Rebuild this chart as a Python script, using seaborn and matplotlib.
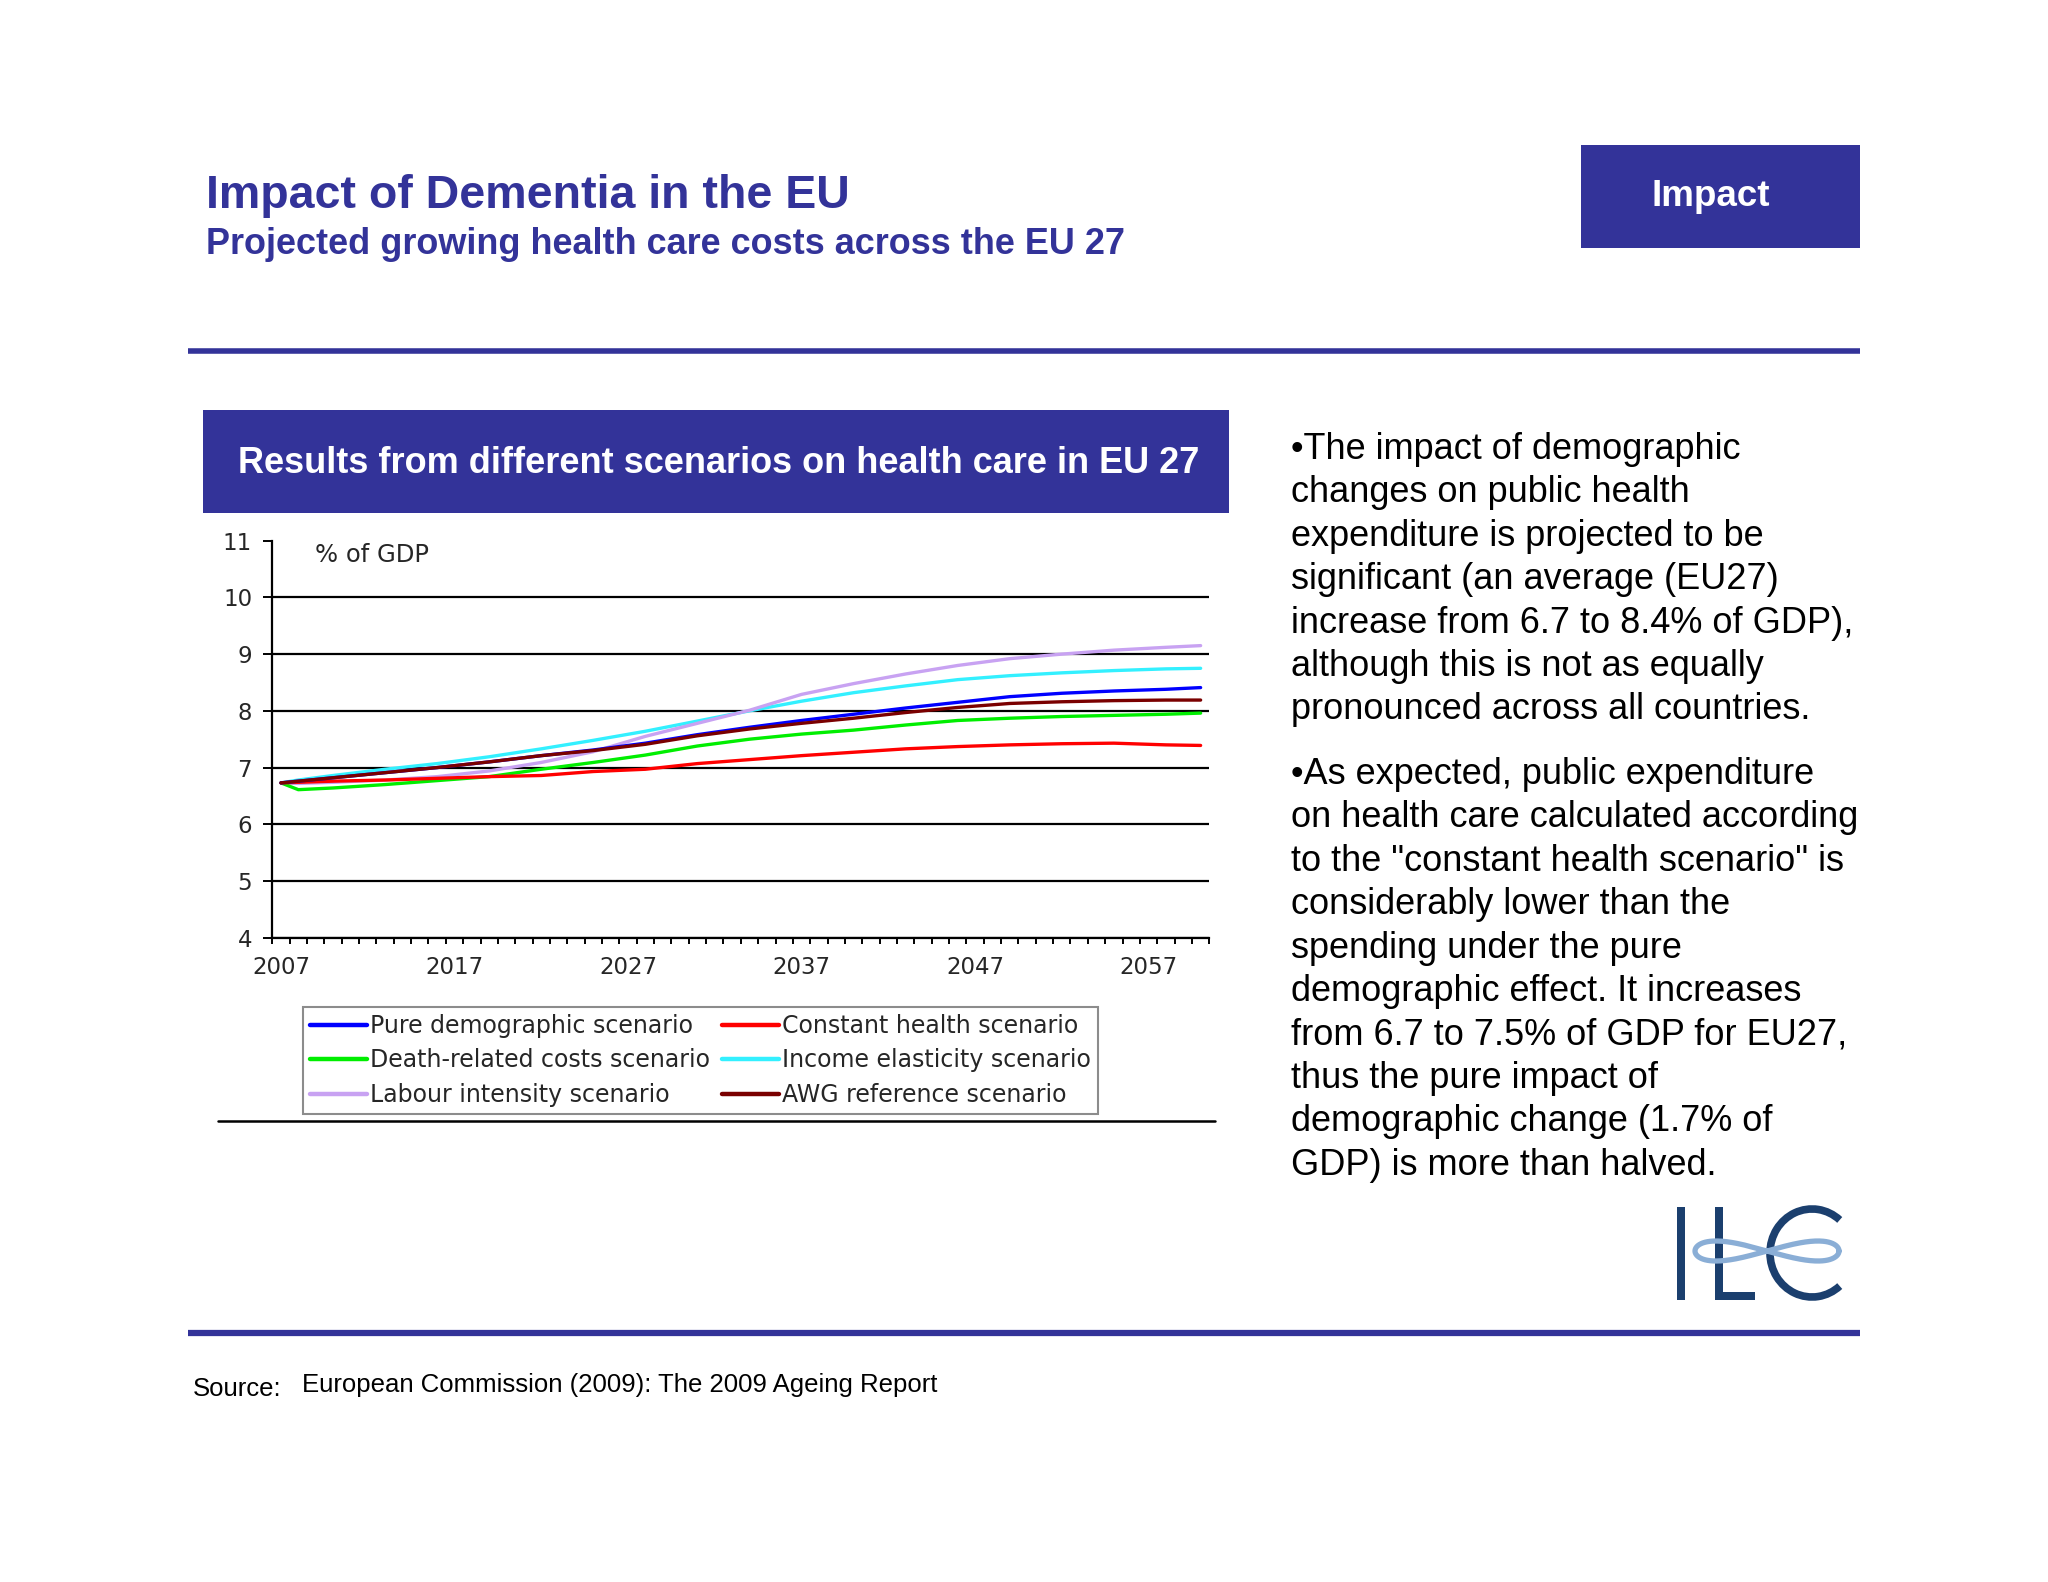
import numpy as np
import pandas as pd
import seaborn as sns
import matplotlib.pyplot as plt
from matplotlib.patches import Rectangle, Arc

# data (% of GDP, EU27)
years = [2007, 2008, 2010, 2013, 2016, 2019, 2022, 2025, 2028, 2031,
         2034, 2037, 2040, 2043, 2046, 2049, 2052, 2055, 2058, 2060]
pure_demo = [6.73, 6.76, 6.82, 6.91, 7.00, 7.10, 7.21, 7.31, 7.43, 7.58,
             7.71, 7.83, 7.94, 8.05, 8.15, 8.25, 8.31, 8.35, 8.38, 8.41]
constant_health = [6.73, 6.74, 6.76, 6.78, 6.81, 6.84, 6.86, 6.93, 6.97, 7.07,
                   7.14, 7.21, 7.27, 7.33, 7.37, 7.40, 7.42, 7.43, 7.40, 7.39]
death_related = [6.73, 6.61, 6.64, 6.70, 6.77, 6.84, 6.97, 7.09, 7.22, 7.38,
                 7.50, 7.59, 7.66, 7.75, 7.83, 7.87, 7.90, 7.92, 7.94, 7.96]
income_elasticity = [6.73, 6.78, 6.86, 6.97, 7.07, 7.19, 7.33, 7.48, 7.64, 7.82,
                     8.00, 8.17, 8.32, 8.44, 8.55, 8.62, 8.67, 8.71, 8.74, 8.75]
labour_intensity = [6.73, 6.72, 6.74, 6.78, 6.84, 6.94, 7.09, 7.28, 7.55, 7.78,
                    8.01, 8.29, 8.48, 8.65, 8.80, 8.92, 9.00, 9.07, 9.12, 9.15]
awg_reference = [6.73, 6.76, 6.82, 6.91, 7.00, 7.10, 7.21, 7.30, 7.41, 7.56,
                 7.68, 7.78, 7.87, 7.97, 8.06, 8.13, 8.16, 8.18, 8.19, 8.19]

x_labels = [2007, 2017, 2027, 2037, 2047, 2057]
y_ticks = [4, 5, 6, 7, 8, 9, 10, 11]

# drawing order (later = on top)
series = [
    ("Income elasticity scenario", income_elasticity, "#33f0ff"),
    ("Labour intensity scenario", labour_intensity, "#c8a2f2"),
    ("Death-related costs scenario", death_related, "#00ee00"),
    ("Constant health scenario", constant_health, "#ff0000"),
    ("Pure demographic scenario", pure_demo, "#0000ff"),
    ("AWG reference scenario", awg_reference, "#7a0000"),
]
legend_order = ["Pure demographic scenario", "Death-related costs scenario",
                "Labour intensity scenario", "Constant health scenario",
                "Income elasticity scenario", "AWG reference scenario"]

title = "Impact of Dementia in the EU"
subtitle = "Projected growing health care costs across the EU 27"
tag = "Impact"
chart_header = "Results from different scenarios on health care in EU 27"
para1 = ["\u2022The impact of demographic",
         "changes on public health",
         "expenditure is projected to be",
         "significant (an average (EU27)",
         "increase from 6.7 to 8.4% of GDP),",
         "although this is not as equally",
         "pronounced across all countries."]
para2 = ["\u2022As expected, public expenditure",
         "on health care calculated according",
         "to the \"constant health scenario\" is",
         "considerably lower than the",
         "spending under the pure",
         "demographic effect. It increases",
         "from 6.7 to 7.5% of GDP for EU27,",
         "thus the pure impact of",
         "demographic change (1.7% of",
         "GDP) is more than halved."]
source_label = "Source:"
source_text = "European Commission (2009): The 2009 Ageing Report"

sns.set_style("white")
plt.rcParams['font.family'] = ['Liberation Sans', 'DejaVu Sans']

W, H = 2048, 1582
navy = "#333399"
fig = plt.figure(figsize=(W / 100, H / 100), dpi=100)

# slide layer in pixel coordinates
bg = fig.add_axes([0, 0, 1, 1])
bg.set_xlim(0, W)
bg.set_ylim(H, 0)
bg.axis('off')

bg.text(206, 208, title, fontsize=33.5, fontweight='bold', color=navy, va='baseline')
bg.text(206, 254, subtitle, fontsize=25.9, fontweight='bold', color=navy, va='baseline')
bg.add_patch(Rectangle((1581, 145), 279, 103, color=navy, lw=0))
bg.text(1651, 206, tag, fontsize=26.5, fontweight='bold', color='white', va='baseline')
bg.plot([188, 1860], [351, 351], color=navy, lw=4, solid_capstyle='butt')
bg.plot([188, 1860], [1333, 1333], color=navy, lw=4.5, solid_capstyle='butt')

bg.add_patch(Rectangle((203, 410), 1026, 103, color=navy, lw=0))
bg.text(238, 473, chart_header, fontsize=26, fontweight='bold', color='white', va='baseline')

for k, line in enumerate(para1):
    bg.text(1291, 459 + 43.4 * k, line, fontsize=26, color='black', va='baseline')
for k, line in enumerate(para2):
    bg.text(1291, 784 + 43.4 * k, line, fontsize=26, color='black', va='baseline')

bg.text(193, 1396, source_label, fontsize=18.5, color='black', va='baseline')
bg.text(302, 1392, source_text, fontsize=18.5, color='black', va='baseline')

bg.plot([218, 1215], [1121, 1121], color='black', lw=1.8)

# ILC logo
logo = "#1b3f6e"
bg.add_patch(Rectangle((1677, 1207), 8, 93, color=logo, lw=0))
bg.add_patch(Rectangle((1715, 1207), 8, 93, color=logo, lw=0))
bg.add_patch(Rectangle((1715, 1292), 40, 8, color=logo, lw=0))
bg.add_patch(Arc((1812, 1253), 84, 88, theta1=50, theta2=310, color=logo, lw=5.5))
t = np.linspace(0, 2 * np.pi, 300)
bg.plot(1767 + 72 * np.cos(t), 1251 + 10 * np.sin(2 * t), color="#8aaed6", lw=3.8)

# chart
ax = fig.add_axes([0.13296, 0.40727, 0.45752, 0.25095])
ax.set_facecolor('none')
for name, vals, col in series:
    df = pd.DataFrame({"year": years, "value": vals})
    sns.lineplot(data=df, x="year", y="value", color=col, lw=2.4, label=name, ax=ax)

ax.set_xlim(2006.5, 2060.5)
ax.set_ylim(4, 11)
ax.set_xlabel("")
ax.set_ylabel("")
ax.set_xticks(x_labels)
ax.set_xticks(np.arange(2006.5, 2061, 1), minor=True)
ax.set_yticks(y_ticks)
ax.tick_params(axis='x', which='major', length=0, pad=13, labelsize=16.5, labelfontfamily='DejaVu Sans')
ax.tick_params(axis='x', which='minor', length=4.5, width=1.4, color='black', direction='out', bottom=True)
ax.tick_params(axis='y', length=6.5, width=1.4, color='black', pad=8, labelsize=16.5,
               labelfontfamily='DejaVu Sans', left=True)
for s in ['top', 'right']:
    ax.spines[s].set_visible(False)
for s in ['left', 'bottom']:
    ax.spines[s].set_color('black')
    ax.spines[s].set_linewidth(1.6)
ax.grid(axis='y', color='black', lw=1.6)
ax.grid(axis='x', visible=False)
ax.get_ygridlines()[-1].set_visible(False)
ax.set_axisbelow(True)

ax.text(315 / W, 1 - 555 / H, "% of GDP", transform=fig.transFigure, fontsize=17.5,
        family='DejaVu Sans', va='center', ha='left')

handles, labels = ax.get_legend_handles_labels()
lookup = dict(zip(labels, handles))
leg = ax.legend([lookup[n] for n in legend_order], legend_order, ncol=2,
                loc='upper left', bbox_to_anchor=(303 / W, 1 - 1007 / H),
                bbox_transform=fig.transFigure, prop={'family': 'DejaVu Sans', 'size': 17},
                frameon=True, fancybox=False, edgecolor='#8c8c8c', framealpha=1,
                handlelength=2.4, handletextpad=0.15, columnspacing=0.5,
                labelspacing=0.44, borderpad=0.3, borderaxespad=0)
leg.get_frame().set_linewidth(1.5)
for h in leg.legend_handles:
    h.set_linewidth(3.2)

fig.savefig("out.png", dpi=100)
